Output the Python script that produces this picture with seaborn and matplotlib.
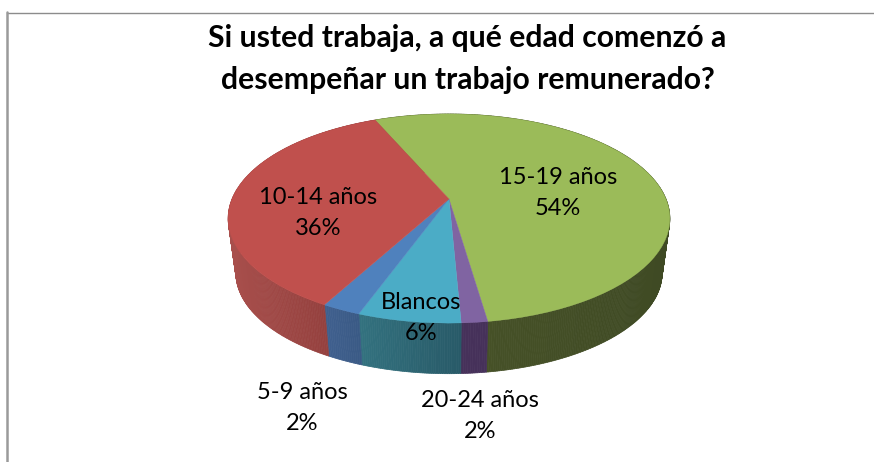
import matplotlib
matplotlib.use('Agg')
import matplotlib.pyplot as plt
from matplotlib.transforms import Transform
from matplotlib.colors import to_rgb
import numpy as np
import seaborn as sns

# Values
categories = ['15-19 años', '20-24 años', 'Blancos', '5-9 años', '10-14 años']
shares = [54.2, 1.6, 6.3, 2.4, 35.5]
title_text = 'Si usted trabaja, a qué edad comenzó a\ndesempeñar un trabajo remunerado?'

top_colors = ['#9BBB59', '#8064A2', '#4BACC6', '#4F81BD', '#C0504D']
wall_left = ['#4A5529', '#46315A', '#33727F', '#40608F', '#A84F4C']
wall_right = ['#3F4A24', '#46315A', '#285A68', '#3A5A85', '#8B3937']
label_xy = [(558, 193), (480, 416), (421, 318), (302, 408), (318, 213)]

# Pie geometry in pixels
APEX_X, APEX_Y = 449, 199
HALF_W, BACK_H = 217, 100.9
TILT = 0.1866
WALL_DROP, WALL_SCALE = 55, 0.965
START_ANGLE = 113.5


class TiltedDisc(Transform):
    # unit disc seen in perspective, far side is smaller
    input_dims = 2
    output_dims = 2

    def transform_non_affine(self, values):
        values = np.asarray(values, dtype=float)
        d = 1 + TILT * values[:, 1]
        return np.column_stack((APEX_X + HALF_W * values[:, 0] / d,
                                APEX_Y - BACK_H * values[:, 1] / d))


sns.set_theme(style='white')
plt.rcParams['font.family'] = ['Lato', 'DejaVu Sans']

fig, ax = plt.subplots(figsize=(8.74, 4.62), dpi=100)
fig.subplots_adjust(left=0, right=1, bottom=0, top=1)

wedges, _ = ax.pie(shares, colors=top_colors, startangle=START_ANGLE,
                   counterclock=False, radius=1, center=(0, 0),
                   wedgeprops={'linewidth': 0})
tilt = TiltedDisc()
for w, c in zip(wedges, top_colors):
    w.set_transform(tilt + ax.transData)
    w.set_zorder(3)
    w.set_edgecolor(c)
    w.set_linewidth(0.3)

# Side wall, thin strips going clockwise round each slice
angle = START_ANGLE
for share, c_a, c_b in zip(shares, wall_right, wall_left):
    sweep = share * 3.6
    edges = np.radians(np.linspace(angle, angle - sweep, int(sweep) * 2 + 2))
    top = tilt.transform_non_affine(np.column_stack((np.cos(edges), np.sin(edges))))
    apex = np.array([APEX_X, APEX_Y])
    low = apex + (top - apex) * WALL_SCALE + np.array([0, WALL_DROP])
    x_lo, x_hi = top[:, 0].min(), top[:, 0].max()
    for i in range(len(edges) - 1):
        t = (top[i, 0] - x_lo) / max(x_hi - x_lo, 1)
        col = np.array(to_rgb(c_b)) * (1 - t) + np.array(to_rgb(c_a)) * t
        ax.fill([top[i, 0], top[i + 1, 0], low[i + 1, 0], low[i, 0]],
                [top[i, 1], top[i + 1, 1], low[i + 1, 1], low[i, 1]],
                color=col, lw=0.5, zorder=2)
    angle -= sweep

ax.set_aspect('auto')
ax.set_xlim(0, 874)
ax.set_ylim(462, 0)
ax.set_frame_on(False)

# Chart area border, only top and left show
ax.plot([7, 874], [12.5, 12.5], color='#8C8C8C', lw=1.0, zorder=1, clip_on=False)
ax.plot([7, 7], [12, 462], color='#9A9A9A', lw=1.8, zorder=1, clip_on=False)

for name, share, (x, y) in zip(categories, shares, label_xy):
    ax.text(x, y, f'{name}\n{share:.0f}%', ha='center', va='center', fontsize=17,
            color='black', linespacing=1.6, zorder=5)

ax.text(467.5, 59, title_text, ha='center', va='center', fontsize=21.7, fontweight='bold',
        color='black', linespacing=1.58, zorder=5)

fig.savefig('out.png', dpi=100, facecolor='white')
